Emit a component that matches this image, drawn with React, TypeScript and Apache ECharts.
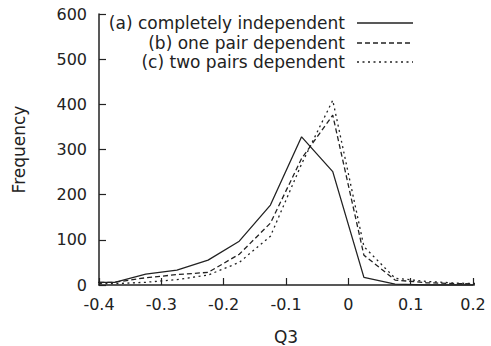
import React, { useEffect, useRef } from "react";
import * as echarts from "echarts";

const binCenters = [-0.425, -0.375, -0.325, -0.275, -0.225, -0.175, -0.125, -0.075, -0.025, 0.025, 0.075, 0.125, 0.175, 0.225];
const seriesA = [6, 6, 24, 33, 55, 97, 177, 328, 251, 17, 2, 0, 0, 0];
const seriesB = [5, 6, 16, 23, 28, 68, 137, 280, 376, 66, 11, 5, 3, 2];
const seriesC = [3, 3, 6, 12, 22, 50, 108, 268, 409, 85, 15, 8, 4, 3];
const seriesNames = ["(a) completely independent", "(b) one pair dependent", "(c) two pairs dependent"];
const xTicks = [-0.4, -0.3, -0.2, -0.1, 0, 0.1, 0.2];
const yTicks = [0, 100, 200, 300, 400, 500, 600];

const INK = "#222";
const FONT = "DejaVu Sans, Liberation Sans, sans-serif";
const FS = 16;
const FS_BIG = 17;
const dashes: (number[] | "solid")[] = ["solid", [5, 3], [2, 3.5]];

export default function App() {
  const ref = useRef<HTMLDivElement>(null);
  useEffect(() => {
    if (!ref.current) return;
    const chart = echarts.init(ref.current, undefined, { renderer: "svg" });
    const all = [seriesA, seriesB, seriesC];
    const legendY = [23, 43, 62];
    chart.setOption({
      animation: false,
      backgroundColor: "#fff",
      grid: { left: 99, right: 18, top: 14, bottom: 61, containLabel: false, outerBoundsMode: "none" },
      xAxis: {
        type: "value",
        min: xTicks[0],
        max: xTicks[xTicks.length - 1],
        interval: 0.1,
        name: "Q3",
        nameLocation: "middle",
        nameGap: 43,
        nameTextStyle: { color: INK, fontFamily: FONT, fontSize: FS_BIG },
        axisLine: { onZero: false, lineStyle: { color: INK, width: 1.5 } },
        axisTick: { inside: true, length: 7, lineStyle: { color: INK, width: 1.2 } },
        axisLabel: {
          color: INK,
          fontFamily: FONT,
          fontSize: FS,
          margin: 11,
          formatter: (v: number) => (Math.abs(v) < 1e-9 ? "0" : v.toFixed(1)),
        },
        splitLine: { show: false },
      },
      yAxis: {
        type: "value",
        min: yTicks[0],
        max: yTicks[yTicks.length - 1],
        interval: 100,
        name: "Frequency",
        nameLocation: "middle",
        nameGap: 72,
        nameTextStyle: { color: INK, fontFamily: FONT, fontSize: FS_BIG },
        axisLine: { show: true, onZero: false, lineStyle: { color: INK, width: 1.5 } },
        axisTick: { show: true, inside: true, length: 7, lineStyle: { color: INK, width: 1.2 } },
        axisLabel: { color: INK, fontFamily: FONT, fontSize: FS, margin: 12 },
        splitLine: { show: false },
      },
      series: all.map((vals, i) => ({
        type: "line",
        name: seriesNames[i],
        data: binCenters.map((x, j) => [x, vals[j]]),
        symbol: "none",
        clip: true,
        lineStyle: { color: INK, width: 1.3, type: dashes[i] },
      })),
      graphic: seriesNames.flatMap((n, i) => [
        {
          type: "text",
          x: 345,
          y: legendY[i],
          style: {
            text: n,
            fill: INK,
            font: `${FS_BIG}px ${FONT}`,
            align: "right",
            verticalAlign: "middle",
          },
        },
        {
          type: "line",
          shape: { x1: 357, y1: legendY[i], x2: 413, y2: legendY[i] },
          style: { stroke: INK, lineWidth: 1.3, lineDash: dashes[i] === "solid" ? null : dashes[i] },
        },
      ]),
    });
    return () => chart.dispose();
  }, []);
  return (
    <div
      ref={ref}
      style={{ position: "absolute", left: 0, top: 0, width: 491, height: 346 }}
    />
  );
}
